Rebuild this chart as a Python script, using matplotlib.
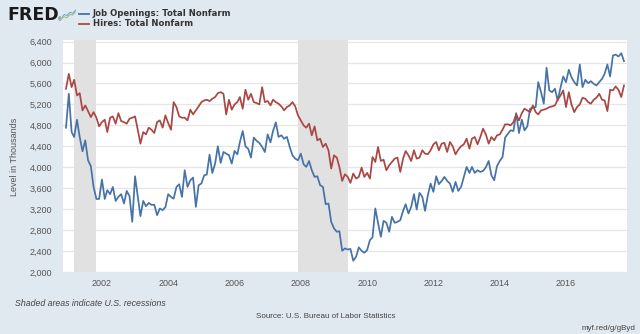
import matplotlib
matplotlib.use("Agg")
import matplotlib.pyplot as plt
import pandas as pd

# Job Openings: Total Nonfarm, monthly, thousands, from Dec 2000
job_openings = [
    4756, 5404, 4672, 4577, 4908, 4577, 4305, 4514, 4133, 4019, 3624, 3395, 3395, 3766, 3395, 3562,
    3486, 3624, 3357, 3434, 3486, 3308, 3548, 3447, 2958, 3828, 3434, 3067, 3358, 3257, 3319, 3283,
    3283, 3085, 3213, 3181, 3238, 3486, 3434, 3400, 3624,
    3676, 3434, 3943, 3625, 3752, 3803, 3244, 3657, 3690, 3847, 3860, 4242, 3891, 4070, 4400, 4083,
    4292, 4260, 4230, 4070, 4312, 4247, 4482, 4692, 4400, 4350, 4185, 4566, 4505, 4465, 4390, 4290,
    4628, 4475, 4692, 4857, 4580, 4610, 4545, 4580,
    4387, 4228, 4165, 4133, 4260, 4057, 4006, 4120, 3943, 3816, 3828, 3657, 3625, 3295, 3308, 2958,
    2832, 2768, 2780, 2405, 2450, 2430, 2440, 2215, 2290, 2470, 2405, 2367, 2420, 2610, 2660, 3213,
    2939, 2673, 2977, 2939, 2768, 3053, 2939, 2958, 2990,
    3168, 3295, 3117, 3244, 3486, 3193, 3511, 3434, 3168, 3466, 3689, 3530, 3828, 3676, 3739, 3816,
    3739, 3690, 3530, 3720, 3548, 3625, 3816, 4006, 3892, 4007, 3892, 3943, 3911, 3930, 4000, 4120,
    3847, 3752, 4019, 4120, 4196, 4566, 4642,
    4705, 4692, 5034, 4654, 4908, 4705, 4781, 5118, 5137, 5150, 5625, 5434, 5213, 5899, 5467, 5434,
    5499, 5276, 5518, 5733, 5625, 5861, 5720, 5625, 5562, 5962, 5530, 5670, 5606, 5644, 5594, 5562,
    5625, 5689, 5784, 5962, 5733, 6133, 6152, 6114, 6178, 6025,
]

# Hires: Total Nonfarm, monthly, thousands, from Dec 2000
hires = [
    5499, 5784, 5530, 5670, 5371, 5415, 5086, 5181, 5072, 4958, 5053, 4946, 4781, 4863, 4908, 4672,
    4946, 4971, 4832, 5034, 4882, 4863, 4832, 4927, 4946, 4971, 4705, 4451, 4672, 4628, 4756, 4717,
    4654, 4863, 4895, 4756, 4990, 4844, 4717, 5244, 5149,
    4971, 4946, 4946, 4895, 5099, 5009, 5086, 5162, 5244, 5276, 5289, 5264, 5308, 5340, 5415, 5434,
    5403, 5009, 5289, 5099, 5200, 5244, 5340, 5118, 5480, 5289, 5403, 5244, 5226, 5200, 5530, 5244,
    5264, 5181, 5289, 5244, 5213, 5162, 5086, 5149,
    5181, 5244, 5162, 4990, 4895, 4800, 4756, 4832, 4609, 4781, 4514, 4546, 4387, 4451, 4324, 3975,
    4228, 4184, 4006, 3739, 3867, 3816, 3701, 3880, 3784, 3816, 3994, 3816, 3892, 3784, 4196, 4101,
    4387, 4120, 4145, 3943, 4038, 4101, 4165, 4184, 3911,
    4165, 4310, 4228, 4120, 4324, 4165, 4184, 4324, 4260, 4250, 4324, 4438, 4482, 4324, 4451, 4465,
    4292, 4482, 4400, 4247, 4337, 4400, 4438, 4546, 4356, 4546, 4577, 4438, 4577, 4737, 4628, 4451,
    4577, 4514, 4609, 4628, 4717, 4819, 4819, 4800,
    4863, 5009, 4895, 5034, 5118, 5086, 5053, 5181, 5053, 5009, 5086, 5099, 5118, 5149, 5162, 5181,
    5289, 5371, 5467, 5149, 5434, 5200, 5053, 5149, 5200, 5327, 5308, 5244, 5213, 5289, 5327, 5403,
    5289, 5276, 5072, 5480, 5467, 5543, 5480, 5340, 5562,
]

start_month = "2000-12-01"
recessions = [("2001-03-01", "2001-11-01"), ("2007-12-01", "2009-06-01")]
y_ticks = list(range(2000, 6401, 400))
x_years = list(range(2002, 2017, 2))

series_names = ["Job Openings: Total Nonfarm", "Hires: Total Nonfarm"]
series_colors = ["#4572a7", "#aa4643"]

dates_jo = pd.date_range(start_month, periods=len(job_openings), freq="MS")
dates_hi = pd.date_range(start_month, periods=len(hires), freq="MS")

bg = "#e1e9f0"
txt = "#555555"
plt.rcParams["font.family"] = ["Liberation Sans", "DejaVu Sans"]

fig = plt.figure(figsize=(6.4, 3.34), dpi=100, facecolor=bg)
ax = fig.add_axes([63 / 640, 1 - 272 / 334, 564 / 640, 232 / 334])
ax.set_facecolor("white")
ax.set_axisbelow(True)

# recession bands
for d0, d1 in recessions:
    ax.axvspan(pd.Timestamp(d0), pd.Timestamp(d1), color="#e1e1e1", lw=0, zorder=1)

ax.plot(dates_jo, job_openings, color=series_colors[0], lw=1.25, zorder=3)
ax.plot(dates_hi, hires, color=series_colors[1], lw=1.25, zorder=3)

ax.set_ylim(2000, 6430)
ax.set_xlim(dates_jo[0] - pd.Timedelta(days=33), dates_jo[-1] + pd.Timedelta(days=33))
ax.set_yticks(y_ticks)
ax.set_yticklabels([f"{v:,}" for v in y_ticks])
ax.set_xticks([pd.Timestamp(f"{y}-01-01") for y in x_years])
ax.set_xticklabels([str(y) for y in x_years])
ax.grid(axis="y", color="#e6e6e6", lw=0.9)
ax.tick_params(axis="y", length=0, pad=8, labelsize=6.5, labelcolor=txt)
ax.tick_params(axis="x", length=0, pad=5, labelsize=6.5, labelcolor=txt)
for s in ax.spines.values():
    s.set_visible(False)

fig.text(15 / 640, 1 - 157 / 334, "Level in Thousands", rotation=90, ha="center", va="center",
         fontsize=6.5, color=txt)

# FRED header and legend
fig.text(7 / 640, 1 - 14.5 / 334, "FRED", family="DejaVu Sans", weight="heavy", fontsize=12.5,
         color="#1a1a1a", ha="left", va="center")
fig.text(57.5 / 640, 1 - 20 / 334, "\u00ae", fontsize=3.5, color="#1a1a1a", ha="left", va="center")
icon = fig.add_axes([61.5 / 640, 1 - 20 / 334, 14 / 640, 11 / 334])
icon.set_facecolor("#dfe8e2")
icon.plot([0, 1, 2, 3, 4, 5], [0.2, 0.5, 0.4, 0.7, 0.6, 0.9], color="#6a9fc8", lw=0.7)
icon.plot([0, 1, 2, 3, 4, 5], [0.1, 0.3, 0.2, 0.5, 0.45, 0.75], color="#8fbf7f", lw=0.7)
icon.set_xlim(0, 5)
icon.set_ylim(0, 1)
icon.axis("off")

for i, (name, col) in enumerate(zip(series_names, series_colors)):
    yy = 1 - (13.5 + 10 * i) / 334
    fig.add_artist(plt.Line2D([79 / 640, 89 / 640], [yy, yy], color=col, lw=1.3))
    fig.text(93 / 640, yy, name, family="DejaVu Sans", weight="bold", fontsize=6.1,
             color="#333333", ha="left", va="center")

# footer
fig.text(15 / 640, 1 - 304 / 334, "Shaded areas indicate U.S. recessions", style="italic",
         fontsize=6.3, color="#444444", ha="left", va="center")
fig.text(326 / 640, 1 - 316 / 334, "Source: U.S. Bureau of Labor Statistics", fontsize=5.8,
         color="#444444", ha="center", va="center")
fig.text(635 / 640, 1 - 328 / 334, "myf.red/g/gByd", fontsize=5.8, color="#444444",
         ha="right", va="center")

fig.savefig("out.png", dpi=100, facecolor=bg)
